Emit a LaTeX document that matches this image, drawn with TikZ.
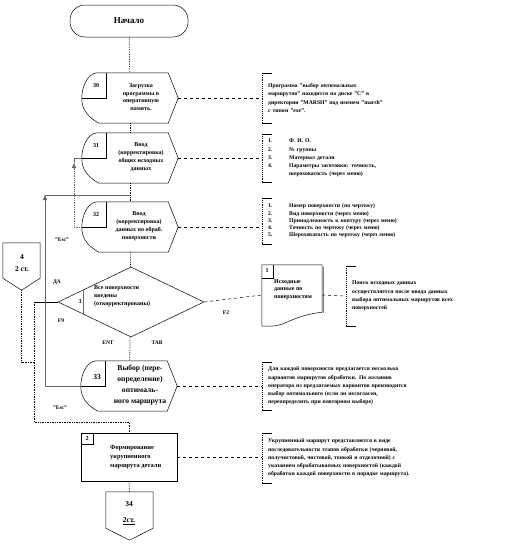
\documentclass[tikz,border=0pt]{standalone}
\usepackage{fontspec}
\setmainfont{Liberation Serif}
\usetikzlibrary{positioning, arrows.meta, shapes.geometric}

\tikzset{
  frame/.style={draw=none, minimum width=96pt, minimum height=50pt, inner sep=0pt},
  term/.style={draw=black, line width=0.5pt, rounded corners=15pt, minimum width=118pt,
    minimum height=32pt, inner sep=0pt, font=\fontsize{9}{10}\selectfont\bfseries},
  decision/.style={diamond, draw=black, line width=0.5pt, minimum width=146pt,
    minimum height=70pt, inner sep=0pt, shape aspect=2.1},
  blkline/.style={draw=black, line width=0.5pt},
  flow/.style={draw=black, densely dotted, line width=0.7pt},
  escline/.style={draw=black!60, line width=0.8pt},
  cmt/.style={draw=black, dash pattern=on 3pt off 3pt, line width=0.5pt},
  blktext/.style={font=\fontsize{6}{7.8}\selectfont\bfseries, align=center, inner sep=0pt},
  bigtext/.style={font=\fontsize{7.6}{10.8}\selectfont\bfseries, align=center, inner sep=0pt},
  numtext/.style={font=\fontsize{6}{7}\selectfont\bfseries, inner sep=0pt},
  note/.style={font=\fontsize{5.7}{8.2}\selectfont\bfseries, align=left, anchor=west,
    inner xsep=6pt, inner ysep=0pt},
  keylbl/.style={font=\fontsize{5.5}{6}\selectfont\bfseries, inner sep=0pt},
}

% display block: rounded left side, pointed right side, number cell
\newcommand{\dispshape}[1]{%
  \draw[blkline] ([xshift=15pt]#1.north west) -- ([xshift=-10pt]#1.north east) -- (#1.east)
    -- ([xshift=-10pt]#1.south east) -- ([xshift=17pt]#1.south west)
    .. controls ([xshift=3pt,yshift=8pt]#1.south west) and ([yshift=-9pt]#1.west) .. (#1.west)
    .. controls ([yshift=10pt]#1.west) and ([xshift=5pt,yshift=-1pt]#1.north west) .. ([xshift=15pt]#1.north west);
  \draw[blkline] (#1.west) -| ([xshift=24pt]#1.north west);}
% off-page connector
\newcommand{\pentshape}[1]{%
  \draw[blkline] (#1.north west) -- (#1.north east) -- ([yshift=12pt]#1.south east)
    -- (#1.south) -- ([yshift=12pt]#1.south west) -- cycle;}
% comment bracket
\newcommand{\notebrace}[1]{%
  \draw[black, densely dotted, line width=0.9pt] (#1.north west) -- (#1.south west);
  \draw[black, line width=0.5pt] ([xshift=10pt]#1.north west) -- (#1.north west)
    (#1.south west) -- ([xshift=10pt]#1.south west);}
\newcommand{\itm}[2]{\makebox[21pt][l]{#1}#2}

\begin{document}
\begin{tikzpicture}[x=1pt, y=-1pt]
\useasboundingbox (0,0) rectangle (505,546);

% main column
\node[term] (start) at (129,21) {Начало};
\node[frame] (b30) at (130,98) {};
\node[frame] (b31) at (130,158) {};
\node[frame] (b32) at (130,227) {};
\node[decision] (dec) at (131,302) {};
\node[frame] (b33) at (129,386) {};
\node[frame, draw=black, line width=0.5pt, minimum height=48pt] (b2) at (129,457) {};
\node[frame, minimum width=47pt, minimum height=48pt] (pg34) at (129.5,516) {};
\node[frame, minimum width=37pt, minimum height=47pt] (pg4) at (21.5,266.5) {};
\node[frame, minimum width=60pt, minimum height=60pt] (doc) at (292,295) {};

\foreach \n in {b30,b31,b32,b33} \dispshape{\n};
\foreach \n in {pg34,pg4} \pentshape{\n};
\draw[blkline] (81,433) rectangle (93,444);
\draw[black!60, line width=0.8pt] (83,290) -- (83,314);

% document
\draw[blkline] (doc.north west) -- (doc.north east) -- ([yshift=13pt]doc.south east)
  .. controls (306,314) and (296,318) .. (285,323)
  .. controls (276,327) and (268,326) .. ([yshift=-1pt]doc.south west) -- cycle;
\draw[black!50, line width=0.8pt] ([xshift=1.5pt,yshift=-2pt]doc.north east) -- ([xshift=1.5pt,yshift=12pt]doc.south east);
\draw[blkline] (262,278) -| (273,265);

% texts
\node[blktext] (t30) at (141,97) {Загрузка\\программы в\\оперативную\\память.};
\node[blktext] (t31) at (141,157) {Ввод\\(корректировка)\\общих исходных\\данных};
\node[blktext] (t32) at (139,226) {Ввод\\(корректировка)\\данных по обраб.\\поверхности};
\node[blktext, align=left, anchor=west] (tdec) at (94,296) {Все поверхности\\введены\\(откорректированы)};
\node[bigtext] (t33) at (140,385) {Выбор (пере-\\определение)\\оптималь-\\ного маршрута};
\node[blktext, font=\fontsize{6.4}{9}\selectfont\bfseries, align=left, anchor=west] (t2) at (110,457) {Формирование\\укрупненного\\маршрута детали};
\node[blktext, align=left, anchor=north west] (tdoc) at (274,279) {Исходные\\данные по\\поверхностям};
\node[blktext, font=\fontsize{7.5}{12}\selectfont\bfseries] (tp4) at (22,263) {4\\2 ст.};
\node[blktext, font=\fontsize{7.5}{12}\selectfont\bfseries] (tp34) at (129,513) {34\\[4pt]\underline{2ст.}};

\node[numtext] (n30) at (96,86) {30};
\node[numtext] (n31) at (96,146) {31};
\node[numtext] (n32) at (96,215) {32};
\node[numtext, font=\fontsize{7.5}{8}\selectfont\bfseries] (n33) at (97,377) {33};
\node[numtext] (ndec) at (80,302) {3};
\node[numtext] (nb2) at (87,439) {2};
\node[numtext] (ndoc) at (267,271) {1};

% comments
\node[note, text width=116pt, minimum height=50pt] (c1) at (262,98)
  {Программа "выбор оптимальных маршрутов" находится на диске "С" в директории "MARSH" под именем "marsh" с типом "exe".};
\node[note, text width=130pt, minimum height=48pt] (c2) at (262,158)
  {\itm{1.}{Ф. И. О.}\\\itm{2.}{№ группы}\\\itm{3.}{Материал детали}\\\itm{4.}{Параметры заготовки: точность,}\\\itm{}{шероховатость (через меню)}};
\node[note, font=\fontsize{5.7}{7.3}\selectfont\bfseries, text width=140pt, minimum height=46pt] (c3) at (262,221)
  {\itm{1.}{Номер поверхности (по чертежу)}\\\itm{2.}{Вид поверхности (через меню)}\\\itm{3.}{Принадлежность к контуру (через меню)}\\\itm{4.}{Точность по чертежу (через меню)}\\\itm{5.}{Шероховатость по чертежу (через меню)}};
\node[note, text width=106pt, minimum height=60pt] (c4) at (346,296)
  {Поиск исходных данных осуществляется после ввода данных выбора оптимальных маршрутов всех поверхностей};
\node[note, text width=150pt, minimum height=48pt] (c5) at (262,386)
  {Для каждой поверхности предлагается несколько вариантов маршрутов обработки. По желанию оператора из предлагаемых вариантов производится выбор оптимального (если он несогласен, переопределить при повторном выборе)};
\node[note, text width=146pt, minimum height=50pt] (c6) at (262,458)
  {Укрупненный маршрут представляется в виде последовательности этапов обработки (черновой, получистовой, чистовой, тонкой и отделочной) с указанием обрабатываемых поверхностей (каждой обработки каждой поверхности в порядке маршрута).};
\foreach \n in {c1,c2,c3,c4,c5,c6} \notebrace{\n};

% flow lines
\foreach \a/\b in {start/b30, b30/b31, b31/b32, b32/dec, dec/b33}
  \draw[flow] (\a) -- (\b);
\coordinate (jl) at (34,302);
\coordinate (jm) at (34,362);
\coordinate (jb) at (34,422);
\draw[blkline] (dec.west) -- (jl);
\draw[flow] (jl) -- (jb) -| (b2.north);
\draw[flow] (pg4.south) |- (jm);
\draw[flow] (b2.south) -- (pg34.north);

% Esc returns
\coordinate (j1) at (130,195);
\coordinate (e45) at (45,195);
\coordinate (e74) at (74,163);
\draw[escline, -{Triangle[width=4pt,length=5pt]}] (b33.west) -| (e45);
\draw[escline] (e45) -- (j1);
\draw[escline, densely dotted, -{Triangle[width=4pt,length=5pt]}] (b32.west) -| (e74);
\draw[escline] (e74) |- (b31.west);

% comment lines
\foreach \b/\c in {b30/c1, b31/c2, b32/c3, b33/c5, b2/c6}
  \draw[cmt] (\b.east) -- (\b.east -| \c.west);
\draw[cmt] (dec.east) -- (doc.west);
\draw[cmt] (doc.east) -- (c4.west);

% key labels
\node[keylbl] (k1) at (62,240) {"Esc"};
\node[keylbl] (k2) at (60,408) {"Esc"};
\node[keylbl] (k3) at (57,282) {ДА};
\node[keylbl] (k4) at (61,321) {F9};
\node[keylbl] (k5) at (108,343) {ENT};
\node[keylbl] (k6) at (157,343) {TAB};
\node[keylbl] (k7) at (226,313) {F2};
\end{tikzpicture}
\end{document}
